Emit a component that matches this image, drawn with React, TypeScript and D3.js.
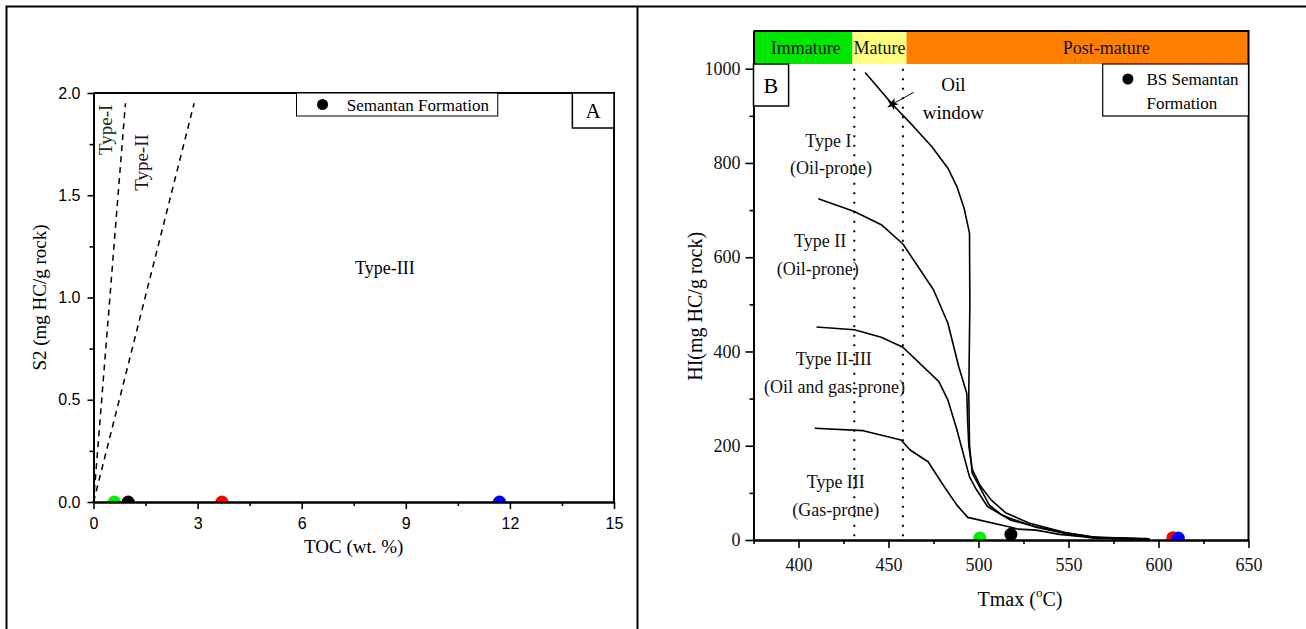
import * as d3 from 'd3';
import React, { useRef, useEffect } from 'react';

// ---- panel A : S2 vs TOC ----
const tocValues = [0.6, 1.0, 3.7, 11.7];
const s2Values = [0, 0, 0, 0];
const sampleColors = ['#00ee00', '#000000', '#ff0000', '#0000ff'];
const tocTicks = [0, 3, 6, 9, 12, 15];
const tocMinor = [1.5, 4.5, 7.5, 10.5, 13.5];
const s2Ticks = [0, 0.5, 1.0, 1.5, 2.0];
const s2Minor = [0.25, 0.75, 1.25, 1.75];
const typeILine = [[0, 0], [0.92, 1.95]];
const typeIILine = [[0, 0], [2.9, 1.95]];

// ---- panel B : HI vs Tmax ----
const tmaxValues = [500.7, 518, 608, 611];
const hiValues = [4, 12, 5, 4];
const tmaxTicks = [400, 450, 500, 550, 600, 650];
const tmaxMinor = [375, 425, 475, 525, 575, 625];
const hiTicks = [0, 200, 400, 600, 800, 1000];
const hiMinor = [100, 300, 500, 700, 900];
const zoneNames = ['Immature', 'Mature', 'Post-mature'];
const zoneEdges = [375, 430, 460, 650];
const zoneColors = ['#00e600', '#ffff80', '#ff8000'];
const oilWindow = [431, 458];

const typeICurve = [[437, 992], [452, 925], [464, 877], [474, 835], [483, 789], [488, 750], [492, 704], [495, 651], [495.2, 500], [494.6, 311], [495, 202], [496.5, 142], [500, 117], [506, 74], [513, 53], [519, 44], [532, 27], [554, 9], [575, 3], [595, 1]];
const typeIICurve = [[411, 724], [431, 697], [446, 669], [458, 628], [475, 531], [483, 460], [489, 368], [493.5, 311], [494, 250], [494.6, 200], [496.5, 150], [501, 115], [507, 85], [515, 58], [528, 36], [548, 16], [565, 6], [595, 2]];
const typeIIIIICurve = [[410, 452], [431, 446], [446, 430], [458, 409], [478, 336], [483, 297], [488, 234], [491, 191], [495, 134], [499, 106], [505, 71], [518, 42], [532, 28], [550, 14], [565, 5], [595, 2]];
const typeIIICurve = [[409, 237], [436, 232], [457, 212], [462, 191], [472, 166], [481, 113], [488, 74], [494, 48], [518, 27], [522, 23], [532, 21], [545, 12], [558, 7], [564, 4], [594, 3]];

const SERIF = '"Liberation Serif", "Times New Roman", serif';
const SANS = '"Liberation Sans", Arial, sans-serif';
const W = 1306, H = 629;

function styleAxis(g, family, size, color) {
    g.attr('font-family', family).attr('font-size', size);
    g.select('.domain').attr('stroke-width', 2);
    g.selectAll('.tick line').attr('stroke-width', 1.6);
    g.selectAll('.tick text')
        .attr('fill', color)
        .attr('font-family', family)
        .attr('font-size', size);
}

function App() {
    const ref = useRef(null);

    useEffect(() => {
        const svg = d3.select(ref.current);
        svg.selectAll('*').remove();
        draw(svg);
    }, []);

    const draw = (svg) => {
        // outer table frame
        svg.append('path')
            .attr('d', `M6.5,${H} V6.5 H${W}`)
            .attr('fill', 'none').attr('stroke', '#000').attr('stroke-width', 2);
        svg.append('line')
            .attr('x1', 637.5).attr('x2', 637.5).attr('y1', 6).attr('y2', H)
            .attr('stroke', '#000').attr('stroke-width', 2);

        // ================= panel A =================
        const x = d3.scaleLinear().domain([0, 15]).range([93.5, 614]);
        const y = d3.scaleLinear().domain([0, 2]).range([502, 93]);

        svg.append('clipPath').attr('id', 'clipA')
            .append('rect')
            .attr('x', x(0)).attr('y', y(2))
            .attr('width', x(15) - x(0)).attr('height', y(0) - y(2));

        const lineA = d3.line().x(d => x(d[0])).y(d => y(d[1]));
        [typeILine, typeIILine].forEach(l => {
            svg.append('path')
                .attr('d', lineA(l))
                .attr('fill', 'none').attr('stroke', '#000')
                .attr('stroke-width', 1.5).attr('stroke-dasharray', '6,5');
        });

        svg.append('g').attr('clip-path', 'url(#clipA)')
            .selectAll('circle').data(tocValues).enter()
            .append('circle')
            .attr('cx', d => x(d))
            .attr('cy', (d, i) => y(s2Values[i]))
            .attr('r', 6.5)
            .attr('fill', (d, i) => sampleColors[i]);

        let gx = svg.append('g').attr('transform', `translate(0,${y(0)})`)
            .call(d3.axisBottom(x).tickValues(tocTicks).tickSize(7).tickSizeOuter(0).tickPadding(9));
        styleAxis(gx, SANS, 16, '#000');
        let gxm = svg.append('g').attr('transform', `translate(0,${y(0)})`)
            .call(d3.axisBottom(x).tickValues(tocMinor).tickSize(4).tickSizeOuter(0).tickFormat(() => ''));
        styleAxis(gxm, SANS, 16, '#000');

        let gy = svg.append('g').attr('transform', `translate(${x(0)},0)`)
            .call(d3.axisLeft(y).tickValues(s2Ticks).tickSize(6).tickSizeOuter(0).tickPadding(7).tickFormat(d3.format('.1f')));
        styleAxis(gy, SANS, 16, '#000');
        let gym = svg.append('g').attr('transform', `translate(${x(0)},0)`)
            .call(d3.axisLeft(y).tickValues(s2Minor).tickSize(4).tickSizeOuter(0).tickFormat(() => ''));
        styleAxis(gym, SANS, 16, '#000');

        svg.append('path')
            .attr('d', `M${x(0)},${y(2)} H${x(15)} V${y(0)}`)
            .attr('fill', 'none').attr('stroke', '#000').attr('stroke-width', 2);

        // legend A
        svg.append('rect')
            .attr('x', x(5.85)).attr('y', y(2))
            .attr('width', x(11.65) - x(5.85)).attr('height', 23)
            .attr('fill', '#fff').attr('stroke', '#000').attr('stroke-width', 1);
        svg.append('circle')
            .attr('cx', x(6.6)).attr('cy', y(2) + 11.5).attr('r', 5.5).attr('fill', '#000');
        svg.append('text')
            .attr('x', x(7.3)).attr('y', y(2) + 17.5)
            .attr('font-family', SERIF).attr('font-size', 17)
            .text('Semantan Formation');

        // "A" box
        svg.append('rect')
            .attr('x', x(13.8)).attr('y', y(2))
            .attr('width', x(15) - x(13.8)).attr('height', 35)
            .attr('fill', '#fff').attr('stroke', '#000').attr('stroke-width', 1.5);
        svg.append('text')
            .attr('x', x(14.4)).attr('y', y(2) + 25)
            .attr('text-anchor', 'middle')
            .attr('font-family', SERIF).attr('font-size', 21)
            .text('A');

        svg.append('text')
            .attr('transform', `translate(${x(0.53)},${y(1.82)}) rotate(-90)`)
            .attr('text-anchor', 'middle')
            .attr('font-family', SERIF).attr('font-size', 19).attr('fill', '#143014')
            .text('Type-I');
        svg.append('text')
            .attr('transform', `translate(${x(1.57)},${y(1.66)}) rotate(-90)`)
            .attr('text-anchor', 'middle')
            .attr('font-family', SERIF).attr('font-size', 19).attr('fill', '#360c24')
            .text('Type-II');
        svg.append('text')
            .attr('x', x(8.4)).attr('y', y(1.115))
            .attr('text-anchor', 'middle')
            .attr('font-family', SERIF).attr('font-size', 18)
            .text('Type-III');

        svg.append('text')
            .attr('x', (x(0) + x(15)) / 2).attr('y', 553)
            .attr('text-anchor', 'middle')
            .attr('font-family', SERIF).attr('font-size', 19)
            .text('TOC (wt. %)');
        svg.append('text')
            .attr('transform', `translate(46,${(y(0) + y(2)) / 2}) rotate(-90)`)
            .attr('text-anchor', 'middle')
            .attr('font-family', SERIF).attr('font-size', 19)
            .text('S2 (mg HC/g rock)');

        // ================= panel B =================
        const xb = d3.scaleLinear().domain([375, 650]).range([753.5, 1248.5]);
        const yb = d3.scaleLinear().domain([0, 1080]).range([540, 31]);

        svg.append('clipPath').attr('id', 'clipB')
            .append('rect')
            .attr('x', xb(375)).attr('y', yb(1080))
            .attr('width', xb(650) - xb(375)).attr('height', yb(0) - yb(1080));

        // maturity zones
        zoneNames.forEach((name, i) => {
            svg.append('rect')
                .attr('x', xb(zoneEdges[i])).attr('y', yb(1080))
                .attr('width', xb(zoneEdges[i + 1]) - xb(zoneEdges[i]))
                .attr('height', yb(1010) - yb(1080))
                .attr('fill', zoneColors[i]);
        });
        const zoneLabelAt = [404, 445, 571];
        zoneNames.forEach((name, i) => {
            svg.append('text')
                .attr('x', xb(zoneLabelAt[i])).attr('y', yb(1010) - 10)
                .attr('text-anchor', 'middle')
                .attr('font-family', SERIF).attr('font-size', 18).attr('fill', '#111')
                .text(name);
        });

        // oil window dotted lines
        oilWindow.forEach(t => {
            svg.append('line')
                .attr('x1', xb(t)).attr('x2', xb(t))
                .attr('y1', yb(1000)).attr('y2', yb(0))
                .attr('stroke', '#000').attr('stroke-width', 2)
                .attr('stroke-dasharray', '2,7.5');
        });

        const lineB = d3.line().x(d => xb(d[0])).y(d => yb(d[1]));
        [typeICurve, typeIICurve, typeIIIIICurve, typeIIICurve].forEach(c => {
            svg.append('path')
                .attr('d', lineB(c))
                .attr('fill', 'none').attr('stroke', '#000')
                .attr('stroke-width', 1.6).attr('stroke-linejoin', 'round');
        });

        // oil window pointer
        svg.append('line')
            .attr('x1', xb(464)).attr('y1', yb(950))
            .attr('x2', xb(452.2)).attr('y2', yb(925))
            .attr('stroke', '#000').attr('stroke-width', 1);
        svg.append('path')
            .attr('transform', `translate(${xb(452.2)},${yb(925)}) rotate(20)`)
            .attr('d', d3.symbol(d3.symbolStar).size(45)())
            .attr('fill', '#000');
        svg.append('text')
            .attr('x', xb(486)).attr('y', yb(1000) + 22)
            .attr('text-anchor', 'middle')
            .attr('font-family', SERIF).attr('font-size', 19)
            .text('Oil');
        svg.append('text')
            .attr('x', xb(486)).attr('y', yb(1000) + 50)
            .attr('text-anchor', 'middle')
            .attr('font-family', SERIF).attr('font-size', 19)
            .text('window');

        // kerogen type labels
        const typeLabels = [
            { text: 'Type I', t: 416.6, hi: 834 },
            { text: '(Oil-prone)', t: 418, hi: 776 },
            { text: 'Type II', t: 412, hi: 622 },
            { text: '(Oil-prone)', t: 410.7, hi: 562 },
            { text: 'Type II-III', t: 419.6, hi: 371 },
            { text: '(Oil and gas-prone)', t: 420, hi: 312 },
            { text: 'Type III', t: 420.7, hi: 110 },
            { text: '(Gas-prone)', t: 420.7, hi: 51 },
        ];
        typeLabels.forEach(l => {
            svg.append('text')
                .attr('x', xb(l.t)).attr('y', yb(l.hi))
                .attr('text-anchor', 'middle')
                .attr('font-family', SERIF).attr('font-size', 18).attr('fill', '#111')
                .text(l.text);
        });

        // samples
        svg.append('g').attr('clip-path', 'url(#clipB)')
            .selectAll('circle').data(tmaxValues).enter()
            .append('circle')
            .attr('cx', d => xb(d))
            .attr('cy', (d, i) => yb(hiValues[i]))
            .attr('r', 6.5)
            .attr('fill', (d, i) => sampleColors[i]);

        let bx = svg.append('g').attr('transform', `translate(0,${yb(0)})`)
            .call(d3.axisBottom(xb).tickValues(tmaxTicks).tickSize(8).tickSizeOuter(0).tickPadding(10).tickFormat(d3.format('d')));
        styleAxis(bx, SERIF, 18, '#111');
        let bxm = svg.append('g').attr('transform', `translate(0,${yb(0)})`)
            .call(d3.axisBottom(xb).tickValues(tmaxMinor).tickSize(4).tickSizeOuter(0).tickFormat(() => ''));
        styleAxis(bxm, SERIF, 18, '#111');

        let by = svg.append('g').attr('transform', `translate(${xb(375)},0)`)
            .call(d3.axisLeft(yb).tickValues(hiTicks).tickSize(8).tickSizeOuter(0).tickPadding(5).tickFormat(d3.format('d')));
        styleAxis(by, SERIF, 18, '#111');
        let bym = svg.append('g').attr('transform', `translate(${xb(375)},0)`)
            .call(d3.axisLeft(yb).tickValues(hiMinor).tickSize(4).tickSizeOuter(0).tickFormat(() => ''));
        styleAxis(bym, SERIF, 18, '#111');

        svg.append('path')
            .attr('d', `M${xb(375)},${yb(1080)} H${xb(650)} V${yb(0)}`)
            .attr('fill', 'none').attr('stroke', '#000').attr('stroke-width', 2);

        // "B" box
        svg.append('rect')
            .attr('x', xb(375)).attr('y', yb(1010))
            .attr('width', xb(394.5) - xb(375)).attr('height', 42)
            .attr('fill', '#fff').attr('stroke', '#000').attr('stroke-width', 1.5);
        svg.append('text')
            .attr('x', xb(384.7)).attr('y', yb(1010) + 29)
            .attr('text-anchor', 'middle')
            .attr('font-family', SERIF).attr('font-size', 22)
            .text('B');

        // legend B
        svg.append('rect')
            .attr('x', xb(569)).attr('y', yb(1010))
            .attr('width', xb(650) - xb(569)).attr('height', 52)
            .attr('fill', '#fff').attr('stroke', '#000').attr('stroke-width', 1.2);
        svg.append('circle')
            .attr('cx', xb(583)).attr('cy', yb(1010) + 15).attr('r', 5.5).attr('fill', '#000');
        svg.append('text')
            .attr('x', xb(593.3)).attr('y', yb(1010) + 21)
            .attr('font-family', SERIF).attr('font-size', 17)
            .text('BS Semantan');
        svg.append('text')
            .attr('x', xb(593.3)).attr('y', yb(1010) + 45)
            .attr('font-family', SERIF).attr('font-size', 17)
            .text('Formation');

        // axis titles
        const tl = svg.append('text')
            .attr('x', 1020).attr('y', 606)
            .attr('text-anchor', 'middle')
            .attr('font-family', SERIF).attr('font-size', 20);
        tl.append('tspan').text('Tmax (');
        tl.append('tspan').attr('dy', -9).attr('font-size', 13).text('o');
        tl.append('tspan').attr('dy', 9).text('C)');
        svg.append('text')
            .attr('transform', `translate(702,${(yb(0) + yb(1000)) / 2 + 2}) rotate(-90)`)
            .attr('text-anchor', 'middle')
            .attr('font-family', SERIF).attr('font-size', 20)
            .text('HI(mg HC/g rock)');
    };

    return (
        <div style={{ position: 'absolute', left: 0, top: 0 }}>
            <svg ref={ref} width={W} height={H} style={{ display: 'block', background: '#fff' }}>
            </svg>
        </div>
    );
}

export default App;
